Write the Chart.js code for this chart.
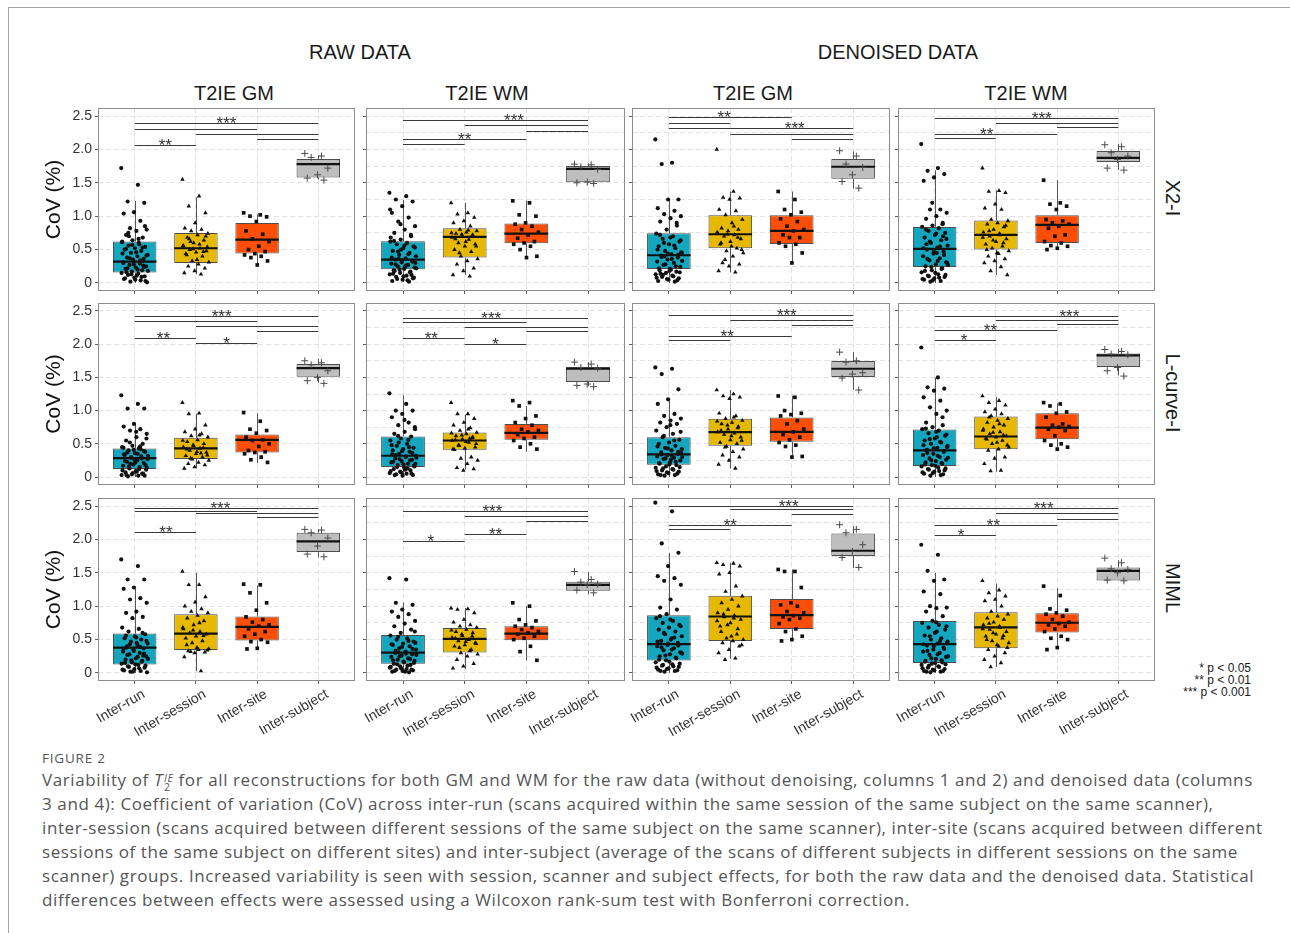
<!DOCTYPE html>
<html>
<head>
<meta charset="utf-8">
<script src="https://cdn.jsdelivr.net/npm/chart.js@4.4.0/dist/chart.umd.min.js"></script>
<style>
  body { margin: 0; background: #fff; }
  #page { position: relative; width: 1290px; height: 933px; overflow: hidden;
          font-family: "Liberation Sans", Arial, sans-serif; color: #1a1a1a; }
  .frame { position: absolute; left: 8px; top: 7px; right: -2px; bottom: -2px;
           border-top: 1px solid #a6a6a6; border-left: 1px solid #a6a6a6; }
  .t { position: absolute; white-space: nowrap; transform: translate(-50%, -50%); font-size: 20px; }
  .strip { transform: translate(-50%, -50%) rotate(90deg); }
  .pv { position: absolute; right: 39px; top: 662px; font-size: 12px; line-height: 12px; text-align: right; }
  .figlab { position: absolute; left: 42px; top: 749px; font-family: "Open Sans", sans-serif;
            font-size: 13.5px; color: #555; letter-spacing: 0.8px; }
  .cap { position: absolute; left: 42px; top: 768px; font-family: "Open Sans", sans-serif;
         font-size: 17px; line-height: 24px; color: #555; white-space: nowrap; letter-spacing: 0.6px; }
  .ss { display: inline-block; vertical-align: -0.45em; font-size: 0.62em; line-height: 0.85em; margin-left: 1px; }
  .ss span { display: block; }
  canvas.panel { position: absolute; }
</style>
</head>
<body>
<div id="page">
  <div class="frame"></div>
  <div class="t" style="left:360px; top:52px">RAW DATA</div>
  <div class="t" style="left:898px; top:52px">DENOISED DATA</div>
  <div class="t" style="left:234px; top:93px">T2IE GM</div>
  <div class="t" style="left:487px; top:93px">T2IE WM</div>
  <div class="t" style="left:753px; top:93px">T2IE GM</div>
  <div class="t" style="left:1026px; top:93px">T2IE WM</div>
  <div class="t strip" style="left:1172px; top:198px">X2-I</div>
  <div class="t strip" style="left:1172px; top:393px">L-curve-I</div>
  <div class="t strip" style="left:1172px; top:588px">MIML</div>
  <div class="pv">* p &lt; 0.05<br>** p &lt; 0.01<br>*** p &lt; 0.001</div>
  <div class="figlab">FIGURE 2</div>
  <div class="cap">Variability of <i>T</i><span class="ss"><span><i>IE</i></span><span>2</span></span> for all reconstructions for both GM and WM for the raw data (without denoising, columns 1 and 2) and denoised data (columns<br>3 and 4): Coefficient of variation (CoV) across inter-run (scans acquired within the same session of the same subject on the same scanner),<br>inter-session (scans acquired between different sessions of the same subject on the same scanner), inter-site (scans acquired between different<br>sessions of the same subject on different sites) and inter-subject (average of the scans of different subjects in different sessions on the same<br>scanner) groups. Increased variability is seen with session, scanner and subject effects, for both the raw data and the denoised data. Statistical<br>differences between effects were assessed using a Wilcoxon rank-sum test with Bonferroni correction.</div>
</div>
<script>
const groups = ["Inter-run", "Inter-session", "Inter-site", "Inter-subject"];
const yTicks = [0, 0.5, 1, 1.5, 2, 2.5];
const yTickLabels = ["0", "0.5", "1.0", "1.5", "2.0", "2.5"];

// box stats per group: [lower whisker, q1, median, q3, upper whisker]
const boxRawGmX2 = [[0.0, 0.156, 0.32, 0.62, 1.23], [0.13, 0.30, 0.52, 0.75, 1.28], [0.28, 0.44, 0.65, 0.90, 1.03], [1.55, 1.58, 1.78, 1.855, 1.91]];
const boxRawWmX2 = [[0.02, 0.205, 0.35, 0.625, 1.245], [0.12, 0.38, 0.69, 0.82, 1.2], [0.40, 0.595, 0.74, 0.89, 1.23], [1.50, 1.51, 1.71, 1.75, 1.79]];
const boxDenGmX2 = [[0.0, 0.21, 0.415, 0.745, 1.245], [0.16, 0.52, 0.73, 1.015, 1.37], [0.30, 0.585, 0.78, 1.015, 1.37], [1.415, 1.56, 1.74, 1.855, 1.97]];
const boxDenWmX2 = [[0.0, 0.24, 0.51, 0.84, 1.69], [0.12, 0.50, 0.72, 0.937, 1.386], [0.50, 0.60, 0.87, 1.015, 1.54], [1.69, 1.81, 1.874, 1.977, 2.08]];
const boxRawGmLc = [[0.0, 0.12, 0.285, 0.43, 0.81], [0.13, 0.27, 0.43, 0.59, 0.955], [0.21, 0.37, 0.56, 0.64, 0.96], [1.42, 1.51, 1.64, 1.70, 1.78]];
const boxRawWmLc = [[0.02, 0.15, 0.32, 0.61, 1.23], [0.11, 0.41, 0.55, 0.67, 0.94], [0.38, 0.56, 0.665, 0.80, 1.07], [1.37, 1.43, 1.63, 1.657, 1.73]];
const boxDenGmLc = [[0.0, 0.186, 0.34, 0.60, 1.17], [0.13, 0.47, 0.676, 0.877, 1.31], [0.31, 0.53, 0.68, 0.897, 1.225], [1.31, 1.505, 1.63, 1.745, 1.88]];
const boxDenWmLc = [[0.0, 0.167, 0.40, 0.715, 1.495], [0.08, 0.42, 0.61, 0.91, 1.21], [0.40, 0.57, 0.745, 0.96, 1.11], [1.53, 1.657, 1.83, 1.86, 1.93]];
const boxRawGmMl = [[0.0, 0.128, 0.38, 0.59, 1.26], [0.025, 0.344, 0.59, 0.88, 1.50], [0.36, 0.487, 0.69, 0.846, 1.31], [1.73, 1.81, 1.97, 2.10, 2.15]];
const boxRawWmMl = [[0.0, 0.14, 0.305, 0.57, 1.057], [0.06, 0.305, 0.51, 0.673, 0.973], [0.19, 0.49, 0.59, 0.70, 1.0], [1.18, 1.23, 1.32, 1.367, 1.51]];
const boxDenGmMl = [[0.0, 0.187, 0.433, 0.865, 1.80], [0.21, 0.48, 0.846, 1.155, 1.65], [0.48, 0.659, 0.865, 1.106, 1.55], [1.57, 1.75, 1.83, 2.09, 2.20]];
const boxDenWmMl = [[0.0, 0.15, 0.433, 0.777, 1.50], [0.09, 0.37, 0.683, 0.91, 1.34], [0.37, 0.605, 0.752, 0.895, 1.27], [1.386, 1.386, 1.53, 1.58, 1.69]];

// individual CoV values per group
const ptsRawGmX2 = [
  [1.72,1.47,1.22,1.20,1.06,1.04,0.93,0.82,0.80,0.78,0.72,0.68,0.64,0.62,0.60,0.56,0.54,0.52,0.50,0.48,0.45,0.42,0.40,0.38,0.36,0.33,0.31,0.29,0.27,0.25,0.23,0.21,0.19,0.17,0.15,0.14,0.12,0.10,0.08,0.06,0.04,0.02,0.01,0.11,0.16,0.26,0.35,0.44,0.58,0.70,
   0.03,0.05,0.07,0.09,0.13,0.18,0.20,0.22,0.24,0.28,0.30,0.34,0.37,0.41,0.46,0.51,0.53,0.57,0.61,0.66,0.75,0.85],
  [1.55,1.30,1.15,1.05,0.90,0.82,0.80,0.78,0.74,0.72,0.68,0.64,0.60,0.56,0.52,0.50,0.48,0.46,0.44,0.40,0.33,0.31,0.28,0.25,0.22,0.18,0.15,0.13,0.62,0.54,
   0.35,0.42,0.47,0.51,0.55,0.58,0.66,0.70],
  [1.05,1.02,1.00,0.99,0.92,0.78,0.73,0.66,0.62,0.55,0.50,0.47,0.44,0.42,0.40,0.38,0.33,0.27],
  [1.94,1.90,1.88,1.72,1.62,1.57,1.54]];
const ptsRawWmX2 = [
  [1.35,1.30,1.25,1.22,1.15,1.05,0.98,0.92,0.85,0.80,0.75,0.70,0.65,0.62,0.60,0.58,0.55,0.52,0.48,0.45,0.42,0.40,0.37,0.35,0.33,0.31,0.29,0.27,0.25,0.23,0.21,0.19,0.17,0.15,0.13,0.11,0.09,0.07,0.05,0.03,0.02,0.36,0.30,0.24,0.18,0.12,0.50,0.68,
   0.04,0.06,0.08,0.10,0.14,0.16,0.20,0.22,0.26,0.28,0.32,0.34,0.38,0.43,0.47,0.53,0.56,0.63,0.72,0.88,1.10],
  [1.20,1.05,1.03,0.98,0.93,0.90,0.85,0.80,0.78,0.76,0.74,0.72,0.70,0.68,0.65,0.60,0.58,0.55,0.50,0.47,0.40,0.36,0.33,0.28,0.22,0.18,0.12,0.10,
   0.45,0.55,0.62,0.66,0.71,0.73,0.75,0.79],
  [1.23,1.20,1.02,1.00,0.90,0.88,0.85,0.80,0.76,0.72,0.67,0.62,0.60,0.58,0.55,0.50,0.40,0.38],
  [1.78,1.77,1.74,1.70,1.51,1.50,1.49]];
const ptsDenGmX2 = [
  [2.15,1.80,1.78,1.25,1.25,1.12,1.08,1.03,1.00,0.97,0.92,0.86,0.80,0.74,0.70,0.66,0.62,0.58,0.55,0.52,0.48,0.45,0.43,0.41,0.38,0.35,0.32,0.30,0.27,0.24,0.21,0.19,0.17,0.15,0.13,0.11,0.09,0.07,0.05,0.03,0.02,0.40,0.46,0.20,0.14,
   0.04,0.06,0.08,0.10,0.12,0.16,0.18,0.22,0.25,0.28,0.33,0.36,0.39,0.42,0.44,0.50,0.56,0.60,0.64,0.68,0.72,0.90],
  [2.00,1.37,1.28,1.27,1.25,1.10,1.08,1.02,0.95,0.90,0.82,0.80,0.78,0.75,0.72,0.70,0.66,0.62,0.58,0.52,0.48,0.45,0.40,0.30,0.28,0.25,0.18,0.16,
   0.35,0.50,0.55,0.60,0.68,0.73,0.76,0.85],
  [1.37,1.25,1.10,1.06,1.02,0.96,0.92,0.85,0.80,0.78,0.72,0.68,0.68,0.60,0.58,0.55,0.45,0.30],
  [1.98,1.90,1.78,1.73,1.62,1.52,1.42]];
const ptsDenWmX2 = [
  [2.08,1.72,1.68,1.63,1.58,1.53,1.10,1.10,1.05,1.00,0.96,0.90,0.86,0.84,0.82,0.78,0.75,0.72,0.68,0.64,0.60,0.56,0.53,0.50,0.47,0.44,0.40,0.37,0.34,0.31,0.28,0.25,0.22,0.19,0.16,0.13,0.11,0.09,0.07,0.05,0.03,0.02,0.30,0.45,0.58,0.70,
   0.04,0.06,0.08,0.10,0.12,0.15,0.18,0.21,0.24,0.27,0.33,0.36,0.42,0.48,0.52,0.55,0.62,0.66,0.74,0.80,0.88,1.20],
  [1.72,1.38,1.37,1.35,1.18,1.12,1.10,0.95,0.93,0.90,0.88,0.84,0.80,0.76,0.72,0.70,0.66,0.62,0.58,0.55,0.52,0.48,0.44,0.40,0.36,0.33,0.30,0.24,0.18,0.12,
   0.45,0.50,0.60,0.64,0.68,0.74,0.78,0.86],
  [1.54,1.20,1.18,1.15,1.10,0.95,0.93,0.90,0.88,0.85,0.82,0.72,0.70,0.62,0.60,0.56,0.55,0.52,0.50],
  [2.07,2.04,1.95,1.90,1.85,1.72,1.69]];
const ptsRawGmLc = [
  [1.23,1.10,1.03,1.03,0.80,0.76,0.72,0.70,0.65,0.60,0.55,0.50,0.47,0.45,0.43,0.40,0.38,0.36,0.33,0.31,0.29,0.27,0.25,0.23,0.21,0.19,0.17,0.15,0.13,0.11,0.09,0.07,0.05,0.04,0.03,0.02,0.01,0.02,0.26,0.34,0.42,0.20,0.14,0.08,
   0.03,0.05,0.06,0.10,0.12,0.16,0.18,0.22,0.24,0.28,0.30,0.32,0.35,0.37,0.39,0.41,0.44,0.46,0.52,0.58,0.68],
  [1.12,0.96,0.95,0.78,0.72,0.68,0.65,0.62,0.60,0.56,0.53,0.50,0.47,0.45,0.43,0.40,0.37,0.35,0.32,0.30,0.27,0.25,0.22,0.20,0.18,0.15,0.13,0.36,
   0.28,0.33,0.38,0.42,0.44,0.48,0.55,0.63],
  [0.97,0.84,0.72,0.70,0.66,0.60,0.56,0.55,0.50,0.46,0.40,0.38,0.37,0.35,0.30,0.26,0.22],
  [1.75,1.72,1.69,1.60,1.50,1.45,1.41]];
const ptsRawWmLc = [
  [1.26,1.10,1.00,1.00,0.95,0.90,0.82,0.78,0.72,0.68,0.65,0.61,0.58,0.55,0.50,0.47,0.44,0.42,0.40,0.38,0.35,0.32,0.30,0.28,0.26,0.24,0.22,0.20,0.18,0.16,0.14,0.12,0.10,0.08,0.06,0.05,0.04,0.03,0.02,0.34,0.45,0.52,0.20,0.11,
   0.03,0.05,0.07,0.09,0.13,0.15,0.17,0.19,0.23,0.25,0.27,0.29,0.31,0.33,0.36,0.39,0.48,0.56,0.62,0.75,0.86],
  [1.12,0.95,0.95,0.88,0.82,0.78,0.74,0.70,0.67,0.65,0.62,0.60,0.57,0.55,0.52,0.48,0.45,0.43,0.41,0.30,0.28,0.25,0.20,0.14,0.12,0.10,0.42,0.58,
   0.47,0.50,0.53,0.56,0.59,0.63,0.66,0.72],
  [1.15,1.12,1.07,0.92,0.88,0.82,0.78,0.72,0.70,0.68,0.64,0.60,0.58,0.55,0.50,0.45,0.42],
  [1.73,1.70,1.65,1.64,1.40,1.38,1.36]];
const ptsDenGmLc = [
  [1.65,1.63,1.55,1.32,1.17,1.10,0.95,0.92,0.88,0.85,0.82,0.80,0.75,0.70,0.65,0.60,0.56,0.52,0.50,0.47,0.44,0.42,0.40,0.37,0.35,0.33,0.31,0.29,0.27,0.25,0.22,0.20,0.18,0.16,0.14,0.12,0.10,0.08,0.06,0.04,0.03,0.02,0.36,0.26,
   0.03,0.05,0.07,0.09,0.11,0.13,0.15,0.19,0.21,0.23,0.28,0.30,0.32,0.34,0.38,0.43,0.46,0.55,0.62,0.68,0.78],
  [1.31,1.25,1.22,1.20,1.18,0.96,0.92,0.88,0.85,0.82,0.80,0.76,0.72,0.68,0.66,0.64,0.60,0.56,0.52,0.50,0.46,0.42,0.38,0.33,0.30,0.25,0.19,0.13,
   0.45,0.55,0.62,0.70,0.74,0.78,0.84,0.90],
  [1.22,1.20,1.00,0.96,0.94,0.92,0.85,0.80,0.72,0.68,0.64,0.60,0.56,0.52,0.48,0.46,0.31,0.30],
  [1.88,1.75,1.73,1.57,1.55,1.49,1.31]];
const ptsDenWmLc = [
  [1.95,1.50,1.35,1.33,1.30,1.20,1.15,1.05,1.00,0.95,0.82,0.78,0.75,0.72,0.70,0.66,0.62,0.58,0.55,0.52,0.50,0.47,0.44,0.41,0.38,0.35,0.33,0.30,0.28,0.26,0.24,0.22,0.20,0.18,0.16,0.14,0.12,0.10,0.08,0.05,0.03,0.02,0.45,0.60,0.40,
   0.04,0.06,0.07,0.09,0.11,0.13,0.17,0.19,0.21,0.25,0.29,0.32,0.36,0.39,0.43,0.48,0.53,0.57,0.64,0.68,0.73,0.90],
  [1.22,1.15,1.12,1.08,1.02,0.98,0.95,0.92,0.88,0.85,0.82,0.78,0.75,0.72,0.68,0.65,0.62,0.60,0.58,0.55,0.50,0.45,0.42,0.40,0.30,0.28,0.20,0.10,0.09,
   0.48,0.52,0.57,0.63,0.67,0.70,0.80,0.90],
  [1.12,1.10,1.07,0.98,0.96,0.90,0.80,0.78,0.76,0.75,0.72,0.70,0.62,0.55,0.50,0.48,0.45,0.42],
  [1.92,1.89,1.85,1.84,1.65,1.60,1.52]];
const ptsRawGmMl = [
  [1.70,1.60,1.40,1.40,1.28,1.26,1.12,1.10,1.05,0.92,0.90,0.84,0.82,0.68,0.66,0.62,0.58,0.55,0.52,0.50,0.47,0.44,0.42,0.40,0.37,0.35,0.32,0.30,0.28,0.25,0.22,0.20,0.18,0.16,0.14,0.12,0.10,0.08,0.06,0.04,0.03,0.02,0.01,0.45,0.38,0.26,
   0.02,0.05,0.07,0.09,0.11,0.13,0.15,0.17,0.19,0.21,0.24,0.27,0.29,0.33,0.36,0.39,0.43,0.48,0.53,0.56,0.60],
  [1.52,1.32,1.32,1.14,1.06,1.00,0.96,0.92,0.90,0.86,0.82,0.78,0.72,0.66,0.62,0.60,0.58,0.55,0.52,0.48,0.45,0.36,0.35,0.33,0.31,0.30,0.24,0.03,
   0.32,0.34,0.38,0.42,0.56,0.64,0.68,0.75],
  [1.33,1.32,1.20,1.05,0.94,0.84,0.80,0.76,0.72,0.70,0.66,0.62,0.58,0.55,0.50,0.47,0.46,0.37,0.36],
  [2.15,2.14,2.10,2.02,1.90,1.78,1.74]];
const ptsRawWmMl = [
  [1.42,1.40,1.05,1.02,0.95,0.92,0.88,0.84,0.78,0.74,0.70,0.65,0.60,0.56,0.52,0.50,0.47,0.44,0.42,0.40,0.37,0.35,0.32,0.30,0.28,0.26,0.24,0.22,0.20,0.18,0.16,0.14,0.12,0.10,0.08,0.06,0.05,0.04,0.03,0.02,0.01,0.31,0.45,
   0.02,0.03,0.05,0.07,0.09,0.11,0.13,0.15,0.17,0.19,0.21,0.25,0.27,0.29,0.33,0.36,0.39,0.43,0.48,0.54,0.62],
  [0.97,0.96,0.95,0.90,0.80,0.76,0.72,0.70,0.68,0.65,0.62,0.60,0.56,0.53,0.50,0.48,0.45,0.42,0.40,0.35,0.30,0.28,0.25,0.20,0.14,0.10,0.07,
   0.33,0.38,0.44,0.47,0.52,0.55,0.58,0.64],
  [1.05,1.00,0.80,0.78,0.72,0.70,0.68,0.65,0.62,0.60,0.58,0.55,0.52,0.50,0.40,0.32,0.19],
  [1.52,1.40,1.36,1.33,1.32,1.24,1.20]];
const ptsDenGmMl = [
  [2.55,2.42,1.94,1.80,1.60,1.45,1.42,1.38,1.32,1.10,0.98,0.95,0.88,0.82,0.78,0.75,0.72,0.68,0.65,0.62,0.58,0.55,0.52,0.48,0.45,0.42,0.40,0.37,0.34,0.31,0.28,0.25,0.22,0.19,0.16,0.13,0.11,0.09,0.07,0.05,0.03,0.02,0.30,0.50,
   0.03,0.04,0.06,0.08,0.10,0.12,0.14,0.17,0.20,0.23,0.26,0.29,0.35,0.38,0.41,0.44,0.47,0.53,0.60,0.70,0.80,0.85],
  [1.65,1.64,1.62,1.60,1.50,1.48,1.30,1.22,1.15,1.10,1.05,1.00,0.95,0.90,0.86,0.84,0.80,0.75,0.70,0.58,0.52,0.50,0.48,0.45,0.40,0.35,0.30,0.22,0.20,
   0.42,0.55,0.62,0.66,0.72,0.78,0.82,0.88],
  [1.55,1.52,1.52,1.28,1.05,1.02,1.00,0.92,0.90,0.86,0.84,0.82,0.80,0.74,0.66,0.62,0.55,0.50,0.48],
  [2.22,2.15,2.10,1.92,1.82,1.73,1.58]];
const ptsDenWmMl = [
  [1.92,1.77,1.53,1.40,1.38,1.22,1.18,1.00,0.98,0.97,0.92,0.85,0.78,0.75,0.72,0.68,0.65,0.60,0.56,0.52,0.50,0.47,0.44,0.41,0.38,0.35,0.32,0.30,0.27,0.24,0.21,0.18,0.16,0.14,0.12,0.10,0.08,0.06,0.04,0.03,0.02,0.01,0.45,0.62,
   0.02,0.03,0.05,0.07,0.09,0.11,0.13,0.15,0.17,0.19,0.22,0.25,0.28,0.33,0.36,0.40,0.43,0.48,0.55,0.70,0.76],
  [1.38,1.24,1.20,1.15,1.10,1.08,1.00,0.92,0.88,0.85,0.82,0.80,0.76,0.72,0.68,0.65,0.62,0.58,0.55,0.52,0.48,0.45,0.40,0.35,0.30,0.25,0.20,0.15,0.09,
   0.38,0.42,0.50,0.56,0.60,0.66,0.70,0.74],
  [1.30,1.16,0.96,0.94,0.90,0.88,0.85,0.80,0.76,0.74,0.72,0.70,0.66,0.62,0.55,0.52,0.50,0.38,0.35],
  [1.72,1.65,1.56,1.55,1.50,1.39,1.38]];

// significance bars: [from group, to group, height, label, label position]
const sigRawGmX2 = [[0,3,2.39,"***",1.5],[0,2,2.31,""],[1,3,2.235,""],[2,3,2.16,""],[0,1,2.07,"**",0.5]];
const sigRawWmX2 = [[0,3,2.44,"***",1.8],[1,3,2.37,""],[2,3,2.28,""],[0,2,2.15,"**",1.0],[0,1,2.08,""]];
const sigDenGmX2 = [[0,2,2.48,"**",0.9],[0,1,2.40,""],[0,3,2.32,"***",2.05],[1,3,2.23,""],[2,3,2.15,""]];
const sigDenWmX2 = [[0,3,2.47,"***",1.75],[1,3,2.40,""],[2,3,2.33,""],[0,2,2.23,"**",0.85],[0,1,2.17,""]];
const sigRawGmLc = [[0,3,2.43,"***",1.42],[0,2,2.35,""],[1,3,2.275,""],[2,3,2.20,""],[0,1,2.10,"**",0.47],[1,2,2.015,"*",1.5]];
const sigRawWmLc = [[0,3,2.40,"***",1.43],[0,2,2.33,""],[1,3,2.26,""],[2,3,2.20,""],[0,1,2.10,"**",0.46],[1,2,2.0,"*",1.5]];
const sigDenGmLc = [[0,3,2.44,"***",1.92],[1,3,2.36,""],[2,3,2.285,""],[0,2,2.13,"**",0.95],[0,1,2.06,""]];
const sigDenWmLc = [[0,3,2.43,"***",2.2],[1,3,2.37,""],[2,3,2.30,""],[0,2,2.215,"**",0.91],[0,1,2.065,"*",0.48]];
const sigRawGmMl = [[0,3,2.47,"***",1.4],[0,2,2.425,""],[1,3,2.39,""],[2,3,2.33,""],[0,1,2.115,"**",0.51]];
const sigRawWmMl = [[0,3,2.42,"***",1.45],[1,3,2.35,""],[2,3,2.28,""],[1,2,2.085,"**",1.5],[0,1,1.97,"*",0.45]];
const sigDenGmMl = [[0,3,2.50,"***",1.95],[1,3,2.45,""],[2,3,2.38,""],[0,2,2.22,"**",1.0],[0,1,2.16,""]];
const sigDenWmMl = [[0,3,2.47,"***",1.78],[1,3,2.40,""],[2,3,2.31,""],[0,2,2.21,"**",0.96],[0,1,2.07,"*",0.43]];

const panels = [
  { col: 0, row: 0, box: boxRawGmX2, pts: ptsRawGmX2, sig: sigRawGmX2 },
  { col: 1, row: 0, box: boxRawWmX2, pts: ptsRawWmX2, sig: sigRawWmX2 },
  { col: 2, row: 0, box: boxDenGmX2, pts: ptsDenGmX2, sig: sigDenGmX2 },
  { col: 3, row: 0, box: boxDenWmX2, pts: ptsDenWmX2, sig: sigDenWmX2 },
  { col: 0, row: 1, box: boxRawGmLc, pts: ptsRawGmLc, sig: sigRawGmLc },
  { col: 1, row: 1, box: boxRawWmLc, pts: ptsRawWmLc, sig: sigRawWmLc },
  { col: 2, row: 1, box: boxDenGmLc, pts: ptsDenGmLc, sig: sigDenGmLc },
  { col: 3, row: 1, box: boxDenWmLc, pts: ptsDenWmLc, sig: sigDenWmLc },
  { col: 0, row: 2, box: boxRawGmMl, pts: ptsRawGmMl, sig: sigRawGmMl },
  { col: 1, row: 2, box: boxRawWmMl, pts: ptsRawWmMl, sig: sigRawWmMl },
  { col: 2, row: 2, box: boxDenGmMl, pts: ptsDenGmMl, sig: sigDenGmMl },
  { col: 3, row: 2, box: boxDenWmMl, pts: ptsDenWmMl, sig: sigDenWmMl }
];

// layout of the plot areas on the page
const colLeft = [98, 366, 632, 898];
const colRight = [358, 628, 893, 1158];
const rowTop = [105, 300, 495];
const rowBottom = [292, 486, 681];

const fills = ["#14A6BF", "#E7B800", "#FC4E07", "#BEBEBE"];
const markers = ["circle", "triangle", "rect", "cross"];
const gridValues = [];
yTicks.forEach((v, i) => {
  gridValues.push(v);
  if (i < yTicks.length - 1) gridValues.push((v + yTicks[i + 1]) / 2);
});

function jitter(k) {
  return (((k * 0.6180339887) % 1) - 0.5) * 0.44;
}

const boxExtras = {
  id: "boxExtras",
  beforeDatasetsDraw(chart, args, opts) {
    const ctx = chart.ctx, xs = chart.scales.x, ys = chart.scales.y;
    ctx.save();
    ctx.strokeStyle = "#555";
    ctx.lineWidth = 1;
    opts.box.forEach((b, i) => {
      const x = Math.round(xs.getPixelForValue(i)) + 0.5;
      ctx.beginPath();
      ctx.moveTo(x, ys.getPixelForValue(b[0]));
      ctx.lineTo(x, ys.getPixelForValue(b[1]));
      ctx.moveTo(x, ys.getPixelForValue(b[3]));
      ctx.lineTo(x, ys.getPixelForValue(b[4]));
      ctx.stroke();
    });
    ctx.restore();
  },
  afterDatasetDraw(chart, args, opts) {
    if (args.index !== 0) return;
    const ctx = chart.ctx, ys = chart.scales.y;
    ctx.save();
    ctx.strokeStyle = "#111";
    ctx.lineWidth = 2.2;
    args.meta.data.forEach((bar, i) => {
      const y = ys.getPixelForValue(opts.box[i][2]);
      ctx.beginPath();
      ctx.moveTo(bar.x - bar.width / 2, y);
      ctx.lineTo(bar.x + bar.width / 2, y);
      ctx.stroke();
    });
    ctx.restore();
  },
  afterDraw(chart, args, opts) {
    const ctx = chart.ctx, xs = chart.scales.x, ys = chart.scales.y, a = chart.chartArea;
    ctx.save();
    ctx.strokeStyle = "#8c8c8c";
    ctx.lineWidth = 1;
    ctx.strokeRect(a.left + 0.5, a.top + 0.5, a.right - a.left - 1, a.bottom - a.top - 1);
    ctx.strokeStyle = "#3a3a3a";
    ctx.fillStyle = "#333";
    ctx.lineWidth = 1.2;
    ctx.font = "17px 'Liberation Sans', Arial, sans-serif";
    ctx.textAlign = "center";
    ctx.textBaseline = "alphabetic";
    opts.sig.forEach(s => {
      const y = Math.round(ys.getPixelForValue(s[2])) + 0.5;
      ctx.beginPath();
      ctx.moveTo(xs.getPixelForValue(s[0]), y);
      ctx.lineTo(xs.getPixelForValue(s[1]), y);
      ctx.stroke();
      if (s[3]) ctx.fillText(s[3], xs.getPixelForValue(s[4]), y + 5);
    });
    ctx.restore();
  }
};

function makePanel(p) {
  const ml = p.col === 0 ? 58 : 40;
  const mb = p.row === 2 ? 62 : 4;
  const L = colLeft[p.col], R = colRight[p.col], T = rowTop[p.row], B = rowBottom[p.row];
  const w = ml + (R - L) + 2, h = 2 + (B - T) + mb;
  const cv = document.createElement("canvas");
  cv.className = "panel";
  cv.width = w;
  cv.height = h;
  cv.style.left = (L - ml) + "px";
  cv.style.top = (T - 2) + "px";
  cv.style.width = w + "px";
  cv.style.height = h + "px";
  document.getElementById("page").appendChild(cv);

  const datasets = [{
    type: "bar",
    data: p.box.map((b, i) => ({ x: i, y: [b[1], b[3]] })),
    backgroundColor: fills,
    borderColor: "#4d4d4d",
    borderWidth: 1,
    borderSkipped: false,
    barPercentage: 0.71,
    categoryPercentage: 1,
    order: 2
  }];
  p.pts.forEach((vals, g) => {
    datasets.push({
      type: "scatter",
      data: vals.map((v, k) => ({ x: g + jitter(k), y: v })),
      pointStyle: markers[g],
      pointRadius: g === 3 ? 3.5 : (g === 0 ? 2.1 : 2.6),
      backgroundColor: g === 3 ? "#4a4a4a" : "#111",
      borderColor: g === 3 ? "#4a4a4a" : "#111",
      borderWidth: g === 3 ? 1 : 0,
      order: 1
    });
  });

  new Chart(cv, {
    type: "bar",
    data: { datasets },
    plugins: [boxExtras],
    options: {
      responsive: false,
      animation: false,
      events: [],
      layout: { padding: { top: 2, right: 2, left: 0, bottom: 0 } },
      plugins: {
        legend: { display: false },
        tooltip: { enabled: false },
        boxExtras: { box: p.box, sig: p.sig }
      },
      scales: {
        x: {
          type: "linear",
          min: -0.6,
          max: 3.6,
          offset: false,
          afterBuildTicks: s => { s.ticks = groups.map((g, i) => ({ value: i })); },
          afterFit: s => { s.height = mb; s.paddingLeft = 0; s.paddingRight = 0; },
          grid: { color: "#dadada", lineWidth: 0.8, offset: false, tickLength: 3, tickColor: "#333", tickBorderDash: [] },
          border: { display: false, dash: [5, 3] },
          ticks: {
            display: p.row === 2,
            autoSkip: false,
            minRotation: 30,
            maxRotation: 30,
            padding: 2,
            labelOffset: 9,
            color: "#333",
            font: { family: "'Liberation Sans', Arial, sans-serif", size: 14 },
            callback: v => groups[v]
          }
        },
        y: {
          min: -0.12,
          max: 2.62,
          afterBuildTicks: s => { s.ticks = gridValues.map(v => ({ value: v })); },
          afterFit: s => { s.width = ml; s.paddingTop = 0; s.paddingBottom = 0; },
          grid: {
            color: "#dadada",
            lineWidth: 0.8,
            tickLength: 3,
            tickBorderDash: [],
            tickColor: c => (yTicks.indexOf(c.tick.value) >= 0 ? "#333" : "rgba(0,0,0,0)")
          },
          border: { display: false, dash: [5, 3] },
          ticks: {
            display: p.col === 0,
            padding: 3,
            color: "#333",
            font: { family: "'Liberation Sans', Arial, sans-serif", size: 14 },
            callback: v => { const i = yTicks.indexOf(v); return i >= 0 ? yTickLabels[i] : ""; }
          },
          title: {
            display: p.col === 0,
            text: "CoV (%)",
            color: "#111",
            font: { family: "'Liberation Sans', Arial, sans-serif", size: 21 },
            padding: { top: 2, bottom: 0 }
          }
        }
      }
    }
  });
}

panels.forEach(makePanel);
</script>
</body>
</html>
